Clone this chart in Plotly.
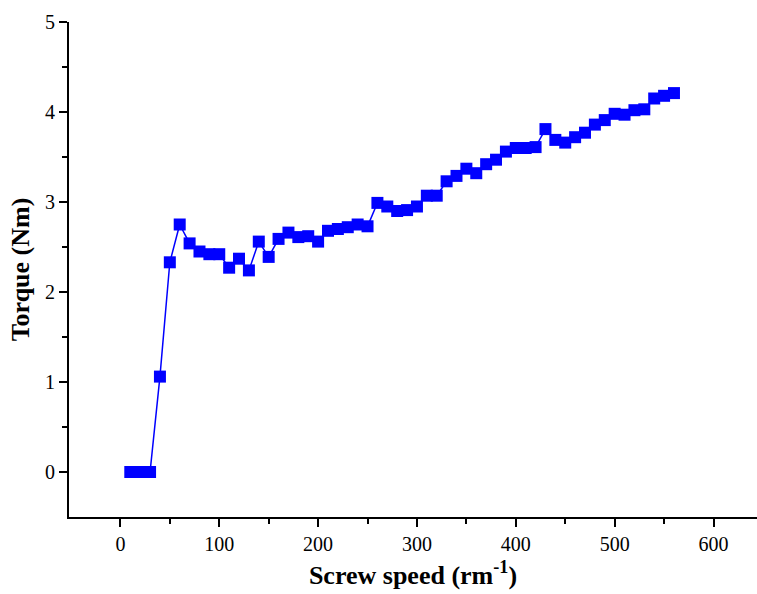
import plotly.graph_objects as go

screw_speed = list(range(10, 570, 10))
torque = [0.00, 0.00, 0.00, 1.06, 2.33, 2.75, 2.54, 2.45, 2.42, 2.42,
          2.27, 2.37, 2.24, 2.56, 2.39, 2.59, 2.66, 2.61, 2.62, 2.56,
          2.68, 2.70, 2.72, 2.75, 2.73, 2.99, 2.95, 2.90, 2.91, 2.95,
          3.07, 3.07, 3.23, 3.29, 3.37, 3.32, 3.42, 3.47, 3.56, 3.60,
          3.60, 3.61, 3.81, 3.69, 3.66, 3.72, 3.77, 3.86, 3.91, 3.98,
          3.97, 4.02, 4.03, 4.15, 4.18, 4.21]

fig = go.Figure()
fig.add_trace(go.Scatter(
    x=screw_speed, y=torque, mode="lines+markers",
    line=dict(color="#0000ff", width=1.5),
    marker=dict(symbol="square", size=12, color="#0000ff"),
    showlegend=False,
))

tickfont = dict(family="Liberation Serif", size=20, color="black")
titlefont = dict(family="Liberation Serif", size=26, color="black")

fig.update_layout(
    width=757, height=594,
    margin=dict(l=69, r=0, t=22, b=77),
    paper_bgcolor="white", plot_bgcolor="white",
    font=dict(family="Liberation Serif"),
    xaxis=dict(
        range=[-52, 644], tickmode="array", tickvals=[0, 100, 200, 300, 400, 500, 600],
        automargin=False,
        showgrid=False, zeroline=False, showline=True, linecolor="black", linewidth=2,
        ticks="outside", ticklen=8, tickwidth=2, tickcolor="black", tickfont=tickfont,
        minor=dict(tickmode="array", tickvals=[50, 150, 250, 350, 450, 550],
                   ticks="outside", ticklen=5, tickwidth=2, tickcolor="black"),
        title=dict(text="<b>Screw speed (rm<sup>-1</sup>)</b>", font=titlefont, standoff=12),
    ),
    yaxis=dict(
        range=[-0.5, 5], tickmode="array", tickvals=[0, 1, 2, 3, 4, 5],
        automargin=False,
        showgrid=False, zeroline=False, showline=True, linecolor="black", linewidth=2,
        ticks="outside", ticklen=8, tickwidth=2, tickcolor="black", tickfont=tickfont,
        minor=dict(tickmode="array", tickvals=[0.5, 1.5, 2.5, 3.5, 4.5],
                   ticks="outside", ticklen=5, tickwidth=2, tickcolor="black"),
        title=dict(text="<b>Torque (Nm)</b>", font=titlefont, standoff=8),
    ),
)

fig.write_html("out.html", config={"displayModeBar": False},
               post_script="document.body.style.margin='0';document.body.style.overflow='hidden';")
